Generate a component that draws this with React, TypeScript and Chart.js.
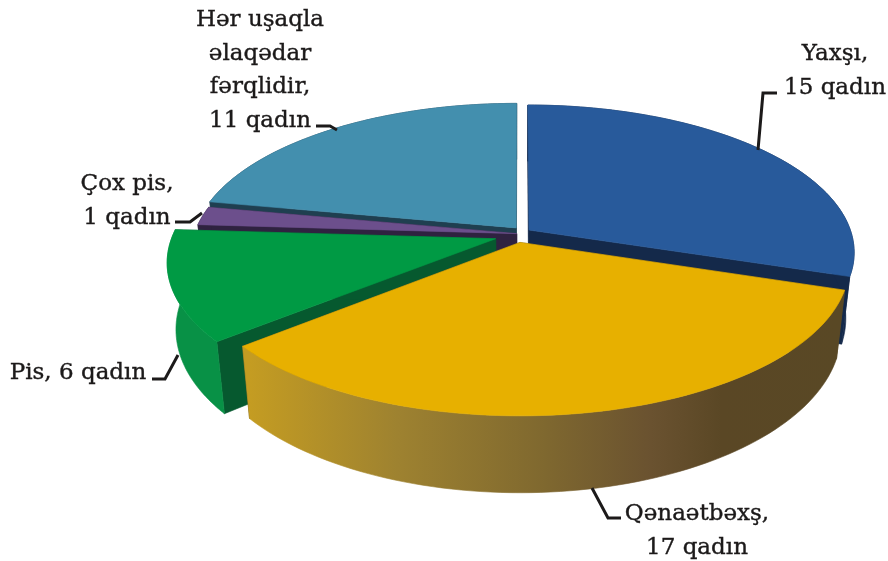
import React, { useEffect, useRef } from "react";
import { Chart, registerables } from "chart.js";

Chart.register(...registerables);

const categories = ["Yaxşı", "Qənaətbəxş", "Pis", "Çox pis", "Hər uşaqla əlaqədar fərqlidir"];
const values = [15, 17, 6, 1, 11];
const labelLines = [
  ["Yaxşı,", "15 qadın"],
  ["Qənaətbəxş,", "17 qadın"],
  ["Pis, 6 qadın"],
  ["Çox pis,", "1 qadın"],
  ["Hər uşaqla", "əlaqədar", "fərqlidir,", "11 qadın"],
];
const topColors = ["#285A9B", "#E7B000", "#009A44", "#6C4F8C", "#438FAE"];
const wallColors = ["#14294A", "#8A7230", "#089146", "#2F2240", "#1F3F50"];
const faceColors = ["#14294A", "#5B4A25", "#06592F", "#2F2240", "#1F3F50"];
const explodeU = [0.028, 0.0, -0.075, -0.01, -0.012];
const explodeV = [-0.055, 0.03, 0.005, -0.03, -0.07];
const drawOrder = [4, 3, 0, 2, 1];

const labelPos = [
  { x: 835, y: 60 },
  { x: 697, y: 520 },
  { x: 78, y: 379 },
  { x: 127, y: 190 },
  { x: 260, y: 26 },
];
const connectors = [
  [[777, 93], [763, 93], [758, 150]],
  [[621, 518], [608, 518], [592, 488]],
  [[152, 379], [165, 379], [178, 355]],
  [[175, 222], [190, 222], [202, 213]],
  [[316, 126], [330, 126], [337, 130]],
];

const view = { cx: 520, cy: 238, a: 146, b: 324, k: 0.15, depth: 65, shrink: 0.025 };

function project(u: number, v: number, z: number) {
  const w = 1 - view.k * v;
  const x = view.cx + ((view.b * u) / w) * (1 - view.shrink * z);
  const y = view.cy + (view.a * v) / w + (view.depth * z) / w;
  return [x, y];
}

function poly(ctx: CanvasRenderingContext2D, pts: number[][], fill: string | CanvasGradient) {
  ctx.beginPath();
  pts.forEach((p, i) => (i ? ctx.lineTo(p[0], p[1]) : ctx.moveTo(p[0], p[1])));
  ctx.closePath();
  ctx.fillStyle = fill;
  ctx.strokeStyle = fill;
  ctx.lineWidth = 0.6;
  ctx.fill();
  ctx.stroke();
}

const pie3d = {
  id: "pie3d",
  beforeDatasetsDraw(chart: any) {
    const ctx: CanvasRenderingContext2D = chart.ctx;
    const arcs = chart.getDatasetMeta(0).data;
    ctx.save();
    drawOrder.forEach((i) => {
      const arc = arcs[i];
      const { startAngle, endAngle } = arc;
      const ou = explodeU[i];
      const ov = explodeV[i];
      const n = 80;
      const rim: number[][] = [];
      for (let s = 0; s <= n; s++) {
        const t = startAngle + ((endAngle - startAngle) * s) / n;
        rim.push([ou + Math.cos(t), ov + Math.sin(t)]);
      }
      const at = (p: number[], z: number) => project(p[0], p[1], z);
      const apex = [ou, ov];
      // radial faces
      poly(ctx, [at(apex, 0), at(rim[0], 0), at(rim[0], 1), at(apex, 1)], faceColors[i]);
      poly(ctx, [at(apex, 0), at(rim[n], 0), at(rim[n], 1), at(apex, 1)], faceColors[i]);
      // outer wall
      const wallPts = [...rim.map((p) => at(p, 0)), ...rim.slice().reverse().map((p) => at(p, 1))];
      let wallFill: string | CanvasGradient = wallColors[i];
      if (i === 1) {
        const g = ctx.createLinearGradient(250, 0, 840, 0);
        g.addColorStop(0, "#C49C22");
        g.addColorStop(0.25, "#9E8230");
        g.addColorStop(0.5, "#7F682F");
        g.addColorStop(0.68, "#6A5230");
        g.addColorStop(0.8, "#5A4725");
        g.addColorStop(1, "#594825");
        wallFill = g;
      }
      poly(ctx, wallPts, wallFill);
      // top face
      poly(ctx, [at(apex, 0), ...rim.map((p) => at(p, 0))], topColors[i]);
    });
    ctx.restore();
    return false;
  },
  afterDraw(chart: any) {
    const ctx: CanvasRenderingContext2D = chart.ctx;
    ctx.save();
    ctx.strokeStyle = "#1C1A1A";
    ctx.lineWidth = 3;
    ctx.lineJoin = "miter";
    connectors.forEach((c) => {
      ctx.beginPath();
      c.forEach((p, i) => (i ? ctx.lineTo(p[0], p[1]) : ctx.moveTo(p[0], p[1])));
      ctx.stroke();
    });
    ctx.fillStyle = "#1C1A1A";
    ctx.strokeStyle = "#1C1A1A";
    ctx.lineWidth = 0.4;
    ctx.font = '23px "DejaVu Serif"';
    ctx.textAlign = "center";
    ctx.textBaseline = "alphabetic";
    labelLines.forEach((lines, i) => {
      lines.forEach((line, j) => {
        const yy = labelPos[i].y + j * 33.5;
        ctx.fillText(line, labelPos[i].x, yy);
        ctx.strokeText(line, labelPos[i].x, yy);
      });
    });
    ctx.restore();
  },
};

export default function App() {
  const ref = useRef<HTMLCanvasElement>(null);
  useEffect(() => {
    const chart = new Chart(ref.current!, {
      type: "pie",
      data: {
        labels: categories,
        datasets: [{ data: values, backgroundColor: topColors, borderWidth: 0 }],
      },
      options: {
        responsive: false,
        animation: false,
        plugins: { legend: { display: false }, tooltip: { enabled: false } },
      },
      plugins: [pie3d],
    } as any);
    return () => chart.destroy();
  }, []);
  return (
    <div style={{ position: "fixed", left: 0, top: 0, width: 888, height: 561, background: "#fff" }}>
      <canvas ref={ref} width={888} height={561} style={{ display: "block" }} />
    </div>
  );
}
